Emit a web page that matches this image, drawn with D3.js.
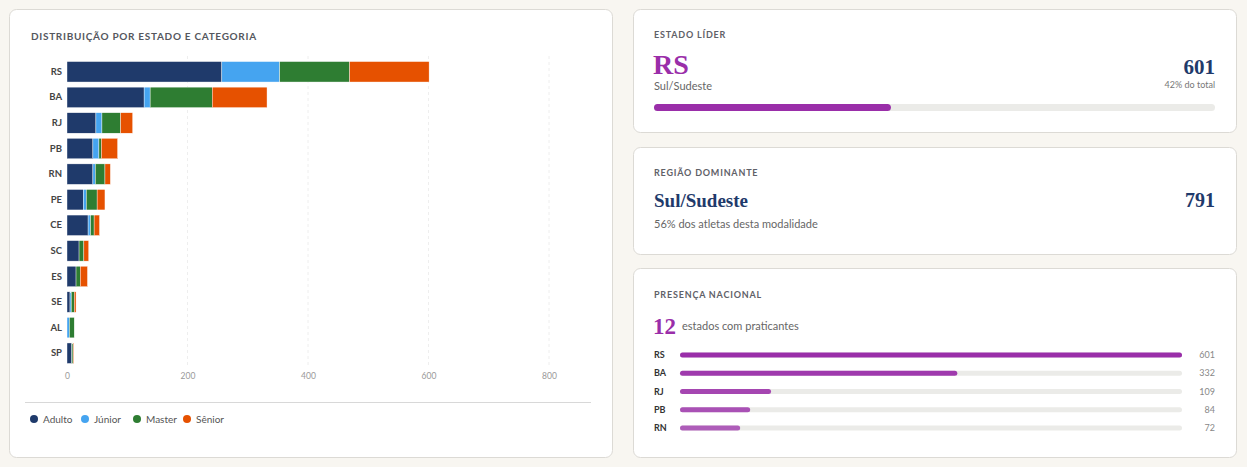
<!DOCTYPE html>
<html>
<head>
<meta charset="utf-8">
<script src="https://cdn.jsdelivr.net/npm/d3@7"></script>
<style>
  body { margin: 0; background: #f8f6f1; }
  svg { display: block; }
  .sans { font-family: Lato, "Noto Sans", sans-serif; }
  .serif { font-family: "Liberation Serif", "DejaVu Serif", serif; font-weight: bold; }
  .cap { font-size: 9px; font-weight: bold; letter-spacing: 0.8px; fill: #5f6168; }
</style>
</head>
<body>
<script>
// data
const states = ["RS", "BA", "RJ", "PB", "RN", "PE", "CE", "SC", "ES", "SE", "AL", "SP"];
const categories = ["Adulto", "Júnior", "Master", "Sênior"];
const adulto = [257, 128, 48, 43, 43, 27, 35, 20, 15, 5, 0, 8];
const junior = [96, 10, 10, 10, 4, 5, 4, 0, 0, 2, 4, 0];
const master = [116, 103, 31, 4, 16, 18, 6, 8, 7, 5, 8, 2];
const senior = [132, 91, 20, 27, 9, 13, 9, 8, 12, 3, 0, 1];
const xTicks = [0, 200, 400, 600, 800];
const catColors = ["#1f3a6b", "#45a4f0", "#2e7d32", "#e65100"];
const topCount = 5;

const W = 1247, H = 467;
const purple = "#9a2ea9", navy = "#1f3a6b";

const rows = states.map((s, i) => ({
  state: s, "Adulto": adulto[i], "Júnior": junior[i], "Master": master[i], "Sênior": senior[i],
  total: adulto[i] + junior[i] + master[i] + senior[i]
}));

const svg = d3.select("body").append("svg").attr("width", W).attr("height", H).classed("sans", true);

// cards
function card(x, y, w, h) {
  svg.append("rect").attr("x", x + 0.5).attr("y", y + 0.5).attr("width", w).attr("height", h)
    .attr("rx", 7).attr("fill", "#fff").attr("stroke", "#dcdad5");
}
card(9, 9, 603, 448);
card(633, 9, 603, 123);
card(633, 147, 603, 107);
card(633, 268, 603, 189);

// ---- stacked bar chart
svg.append("text").attr("x", 31).attr("y", 40).attr("class", "cap")
  .style("font-size", "10px").style("letter-spacing", "0.7px").style("fill", "#55575e")
  .text("DISTRIBUIÇÃO POR ESTADO E CATEGORIA");

const x = d3.scaleLinear().domain([0, 800]).range([67, 549]);
const y = d3.scaleBand().domain(states).range([59, 366]).paddingInner(0.2).paddingOuter(0.1);

const g = svg.append("g");

// grid
g.selectAll("line.grid").data(xTicks.slice(1)).join("line")
  .attr("x1", d => x(d)).attr("x2", d => x(d))
  .attr("y1", 56).attr("y2", 366)
  .attr("stroke", "#eeeeee").attr("stroke-dasharray", "3,3");

const stack = d3.stack().keys(categories)(rows);
g.selectAll("g.layer").data(stack).join("g")
  .attr("fill", (d, i) => catColors[i])
  .selectAll("rect").data(d => d).join("rect")
  .attr("x", d => x(d[0]))
  .attr("y", d => y(d.data.state))
  .attr("width", d => Math.max(0, x(d[1]) - x(d[0])))
  .attr("height", y.bandwidth())
  .attr("stroke", "#fff").attr("stroke-width", 0.4);

// y labels
const yAxis = svg.append("g").attr("transform", "translate(62,0)")
  .call(d3.axisLeft(y).tickSize(0).tickPadding(0));
yAxis.select(".domain").remove();
yAxis.selectAll("text").attr("class", "sans").style("font-size", "9.5px").style("font-weight", "bold").attr("fill", "#444");

// x axis
const xAxis = svg.append("g").attr("transform", "translate(0,373)")
  .call(d3.axisBottom(x).tickValues(xTicks).tickSize(0).tickPadding(0));
xAxis.select(".domain").remove();
xAxis.selectAll("text").attr("class", "sans").style("font-size", "8.5px").attr("fill", "#999").attr("dy", "0.71em");

// separator + legend
svg.append("line").attr("x1", 25).attr("x2", 591).attr("y1", 402.5).attr("y2", 402.5).attr("stroke", "#d8d8d8");
const legX = [34, 85, 137, 187];
const leg = svg.selectAll("g.leg").data(categories).join("g")
  .attr("transform", (d, i) => `translate(${legX[i]},419)`);
leg.append("circle").attr("r", 4).attr("fill", (d, i) => catColors[i]);
leg.append("text").attr("x", 9).attr("dy", "0.35em").style("font-size", "10px").attr("fill", "#555").text(d => d);

// ---- card 1: estado líder
const leader = rows[0];
const grand = d3.sum(rows, d => d.total);
svg.append("text").attr("x", 654).attr("y", 38).attr("class", "cap").text("ESTADO LÍDER");
svg.append("text").attr("x", 653).attr("y", 74).attr("class", "serif").style("font-size", "28px").attr("fill", purple).text(leader.state);
svg.append("text").attr("x", 654).attr("y", 90).style("font-size", "11px").attr("fill", "#666").text("Sul/Sudeste");
svg.append("text").attr("x", 1215).attr("y", 74).attr("text-anchor", "end").attr("class", "serif").style("font-size", "21px").attr("fill", navy).text(leader.total);
svg.append("text").attr("x", 1215).attr("y", 88).attr("text-anchor", "end").style("font-size", "9px").attr("fill", "#777").text("42% do total");
const pScale = d3.scaleLinear().domain([0, 1]).range([0, 561]);
svg.append("rect").attr("x", 654).attr("y", 104).attr("width", pScale(1)).attr("height", 7).attr("rx", 3.5).attr("fill", "#ebebe8");
svg.append("rect").attr("x", 654).attr("y", 104).attr("width", pScale(leader.total / grand)).attr("height", 7).attr("rx", 3.5).attr("fill", purple);

// ---- card 2: região dominante
svg.append("text").attr("x", 654).attr("y", 176).attr("class", "cap").text("REGIÃO DOMINANTE");
svg.append("text").attr("x", 654).attr("y", 207).attr("class", "serif").style("font-size", "19px").attr("fill", navy).text("Sul/Sudeste");
svg.append("text").attr("x", 1215).attr("y", 207).attr("text-anchor", "end").attr("class", "serif").style("font-size", "20px").attr("fill", navy).text("791");
svg.append("text").attr("x", 654).attr("y", 228).style("font-size", "11px").attr("fill", "#666").text("56% dos atletas desta modalidade");

// ---- card 3: presença nacional
svg.append("text").attr("x", 654).attr("y", 298).attr("class", "cap").text("PRESENÇA NACIONAL");
svg.append("text").attr("x", 653).attr("y", 334).attr("class", "serif").style("font-size", "23px").attr("fill", purple).text(states.length);
svg.append("text").attr("x", 682).attr("y", 330).style("font-size", "11px").attr("fill", "#666").text("estados com praticantes");

const topRows = rows.slice(0, topCount);
const bx = d3.scaleLinear().domain([0, d3.max(topRows, d => d.total)]).range([680, 1182]);
const by = d3.scalePoint().domain(topRows.map(d => d.state)).range([355, 428]);
const op = d3.scaleLinear().domain([0, topCount - 1]).range([1, 0.75]);
const pr = svg.selectAll("g.pr").data(topRows).join("g").attr("transform", d => `translate(0,${by(d.state)})`);
pr.append("text").attr("x", 654).attr("dy", "0.35em").style("font-size", "9px").style("font-weight", "bold").attr("fill", "#333").text(d => d.state);
pr.append("rect").attr("x", 680).attr("y", -2.5).attr("width", bx.range()[1] - 680).attr("height", 5).attr("rx", 2.5).attr("fill", "#ebebe8");
pr.append("rect").attr("x", 680).attr("y", -2.5).attr("width", d => bx(d.total) - 680).attr("height", 5).attr("rx", 2.5)
  .attr("fill", purple).attr("fill-opacity", (d, i) => op(i));
pr.append("text").attr("x", 1215).attr("dy", "0.35em").attr("text-anchor", "end").style("font-size", "9px").attr("fill", "#888").text(d => d.total);
</script>
</body>
</html>
